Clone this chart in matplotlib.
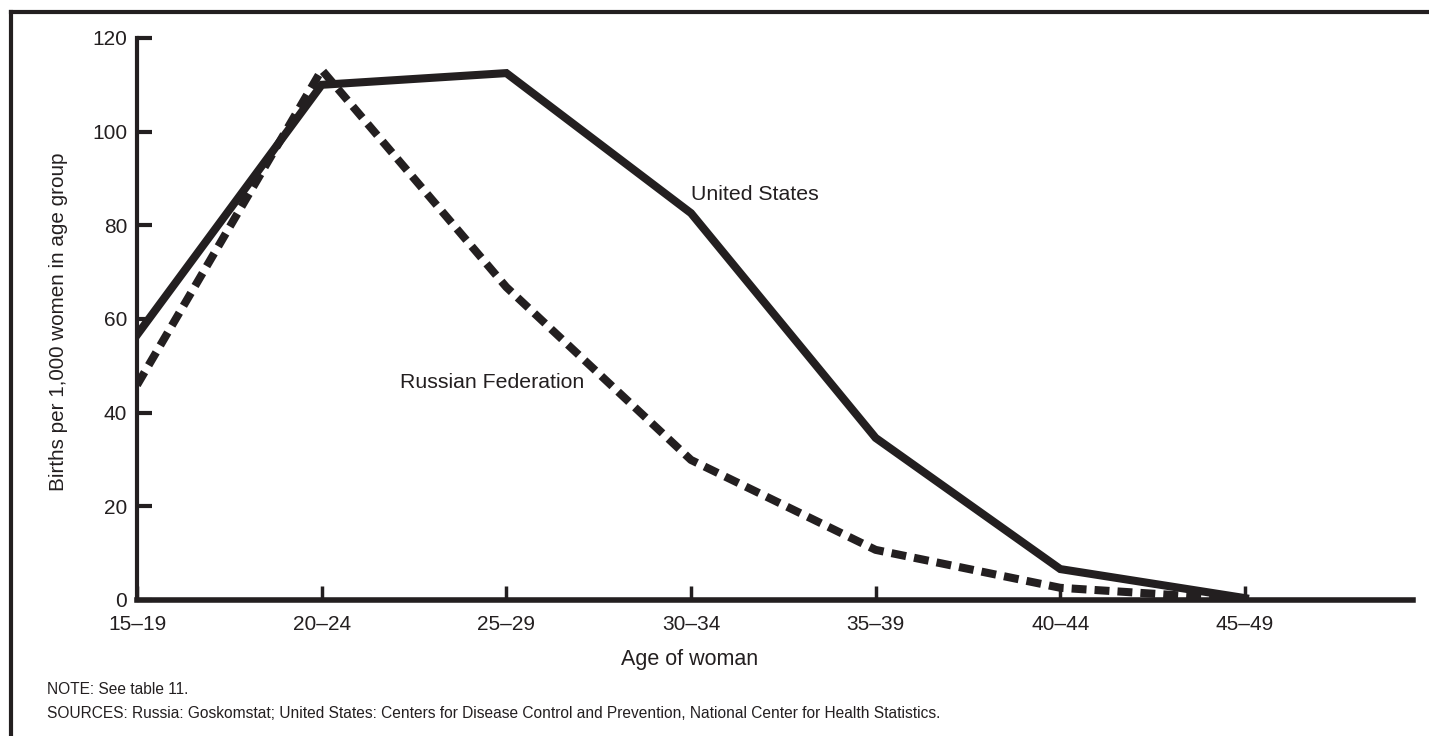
import matplotlib.pyplot as plt
from matplotlib.lines import Line2D

plt.rcParams['font.family'] = ['Liberation Sans', 'DejaVu Sans']

# Births per 1,000 women, by age group
age_groups = ["15–19", "20–24", "25–29", "30–34", "35–39", "40–44", "45–49"]
us_rates = [56.6, 110.0, 112.5, 82.6, 34.6, 6.6, 0.4]
russia_rates = [45.9, 113.2, 66.8, 29.9, 10.7, 2.6, 0.1]

ink = "#231f20"
x = list(range(len(age_groups)))

fig = plt.figure(figsize=(14.29, 7.36), dpi=100)
ax = fig.add_axes([0.0959, 0.1848, 0.8929, 0.7636])

ax.plot(x, us_rates, color=ink, linewidth=5.8, solid_joinstyle="miter")
ax.plot(x, russia_rates, color=ink, linewidth=5.8, linestyle=(0, (1.85, 1.0)),
        dash_capstyle="butt")

ax.set_xlim(0, 6.91)
ax.set_ylim(0, 120)
ax.set_xticks(x)
ax.set_xticklabels(age_groups)
ax.set_yticks([0, 20, 40, 60, 80, 100, 120])

for s in ["top", "right"]:
    ax.spines[s].set_visible(False)
ax.spines["left"].set_linewidth(3)
ax.spines["bottom"].set_linewidth(4)
ax.spines["left"].set_color(ink)
ax.spines["bottom"].set_color(ink)
ax.tick_params(axis="y", direction="in", length=11, width=3, color=ink,
               labelsize=15, pad=7, labelcolor=ink)
ax.tick_params(axis="x", direction="in", length=10, width=2.5, color=ink,
               labelsize=15, pad=11, labelcolor=ink)

ax.set_xlabel("Age of woman", fontsize=15.5, color=ink)
ax.xaxis.set_label_coords(0.433, -0.088)
ax.set_ylabel("Births per 1,000 women in age group", fontsize=14.9, color=ink)
ax.yaxis.set_label_coords(-0.054, 0.495)

ax.text(3.0, 86.5, "United States", fontsize=15.3, color=ink, ha="left", va="center")
ax.text(1.424, 46.5, "Russian Federation", fontsize=15.3, color=ink, ha="left", va="center")

fig.text(0.0329, 0.0625, "NOTE: See table 11.", fontsize=11.2, color=ink, va="center")
fig.text(0.0329, 0.0299,
         "SOURCES: Russia: Goskomstat; United States: Centers for Disease Control and "
         "Prevention, National Center for Health Statistics.",
         fontsize=11.2, color=ink, va="center")

# partial frame around the figure
fig.add_artist(Line2D([0.0077, 1.0], [0.9837, 0.9837], transform=fig.transFigure,
                      color=ink, linewidth=3, solid_capstyle="projecting"))
fig.add_artist(Line2D([0.0077, 0.0077], [0.0, 0.9837], transform=fig.transFigure,
                      color=ink, linewidth=3, solid_capstyle="projecting"))

fig.savefig("out.png", dpi=100)
